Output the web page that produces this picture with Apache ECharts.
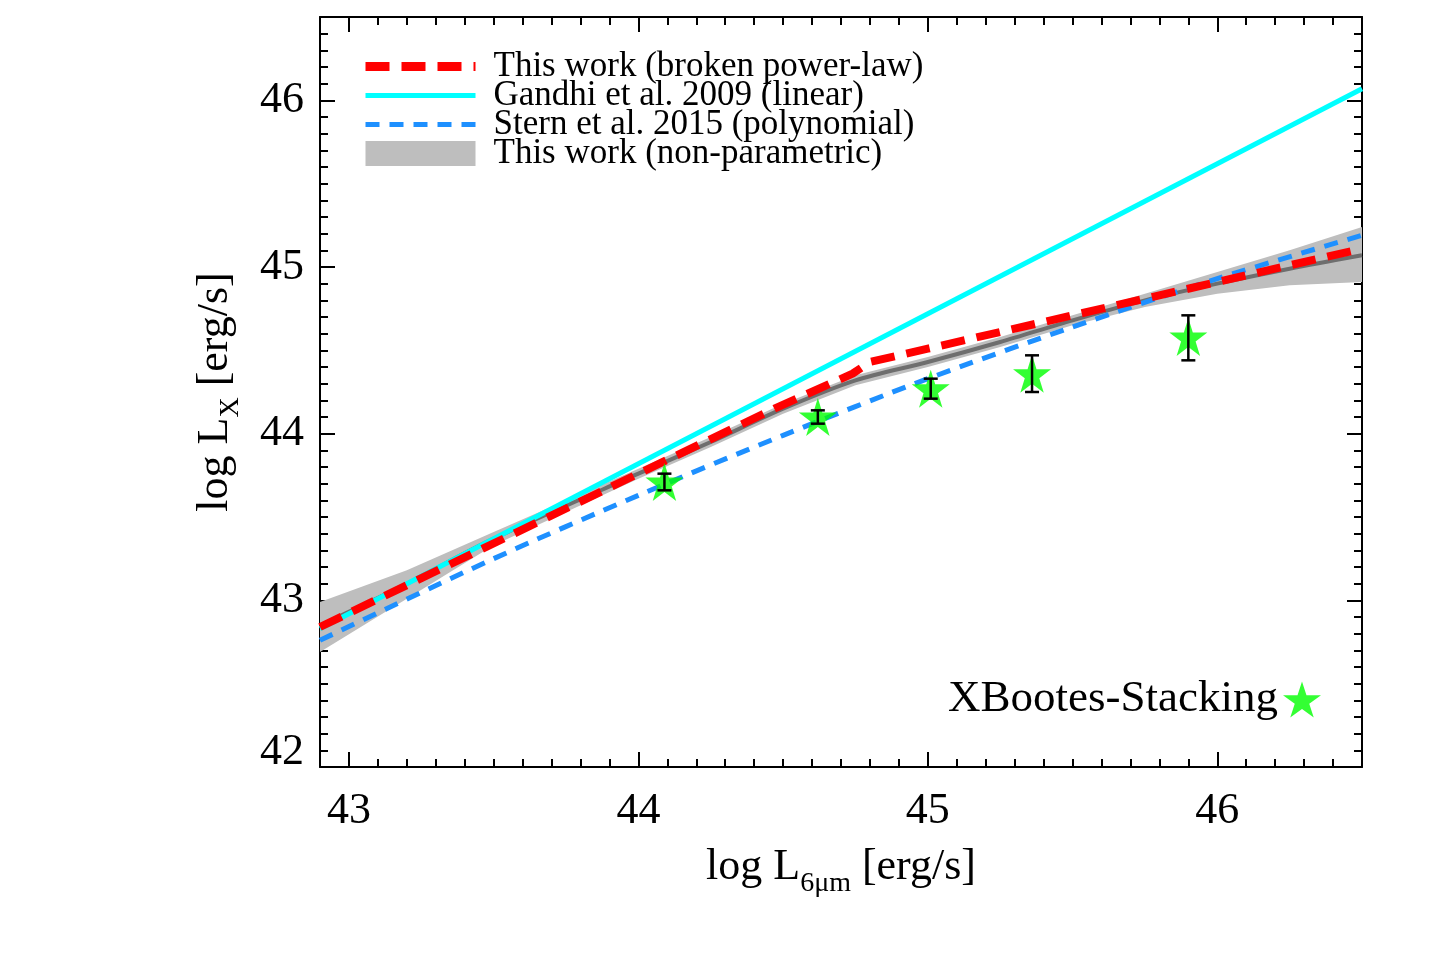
<!DOCTYPE html>
<html style="height: 100%">
<head>
  <meta charset="utf-8" />
  <title>log LX vs log L6um</title>
  <script src="https://cdn.jsdelivr.net/npm/echarts@6/dist/echarts.min.js"></script>
</head>
<body style="height: 100%; margin: 0; background: #fff">
  <div id="main" style="width: 1438px; height: 959px"></div>
  <script>
    // Gandhi et al. 2009 (linear)
    const gandhiX = [42.9, 46.5];
    const gandhiY = [42.83, 46.07];

    // This work, broken power-law
    const brokenX = [42.9, 44.0, 44.47, 44.74, 44.8, 45.0, 46.5];
    const brokenY = [42.84, 43.76, 44.15, 44.36, 44.43, 44.51, 45.11];

    // Stern et al. 2015 (polynomial)
    const sternX = [42.9, 43.5, 44.0, 44.5, 45.0, 45.5, 46.0, 46.5];
    const sternY = [42.76, 43.25, 43.63, 43.99, 44.33, 44.64, 44.93, 45.19];

    // This work, non-parametric: median and band
    const bandX  = [42.9, 43.2, 43.5, 44.0, 44.25, 44.5, 44.75, 45.0, 45.25, 45.5, 45.75, 46.0, 46.25, 46.5];
    const medY   = [42.85, 43.10, 43.37, 43.76, 43.95, 44.15, 44.32, 44.43, 44.55, 44.68, 44.80, 44.90, 44.99, 45.07];
    const bandLo = [42.69, 43.01, 43.33, 43.73, 43.92, 44.12, 44.29, 44.40, 44.52, 44.65, 44.76, 44.84, 44.89, 44.91];
    const bandHi = [42.99, 43.18, 43.41, 43.79, 43.98, 44.18, 44.35, 44.46, 44.58, 44.71, 44.84, 44.97, 45.10, 45.24];

    // XBootes stacking points
    const stackX  = [44.09, 44.62, 45.01, 45.36, 45.90];
    const stackY  = [43.71, 44.10, 44.27, 44.36, 44.58];
    const stackLo = [43.66, 44.06, 44.21, 44.25, 44.44];
    const stackHi = [43.76, 44.14, 44.33, 44.47, 44.71];

    const xMajor = [43, 44, 45, 46];
    const yMajor = [42, 43, 44, 45, 46];

    const xMinor = [];
    for (let i = 430; i <= 465; i++) xMinor.push(i / 10);
    const yMinor = [];
    for (let i = 420; i <= 465; i++) yMinor.push(i / 10);

    const FONT = 'Liberation Serif';
    const STAR = 'path://M50,0 L61.2,34.5 L97.6,34.5 L68.2,55.9 L79.4,90.5 L50,69.1 L20.6,90.5 L31.8,55.9 L2.4,34.5 L38.8,34.5 Z';

    const zip = (xs, ys) => xs.map((x, i) => [x, ys[i]]);

    function xAxis(pos, major, labels) {
      return {
        type: 'value', position: pos, min: 42.9, max: 46.5,
        axisLine: { show: major, lineStyle: { color: '#000', width: 2 } },
        axisTick: {
          show: true, inside: true, length: major ? 15 : 8,
          customValues: major ? xMajor : xMinor,
          lineStyle: { color: '#000', width: 2 }
        },
        axisLabel: labels ? {
          show: true, customValues: xMajor, margin: 22,
          fontFamily: FONT, fontSize: 44, color: '#000'
        } : { show: false },
        splitLine: { show: false }
      };
    }

    function yAxis(pos, major, labels) {
      return {
        type: 'value', position: pos, min: 42, max: 46.5,
        axisLine: { show: major, lineStyle: { color: '#000', width: 2 } },
        axisTick: {
          show: true, inside: true, length: major ? 15 : 8,
          customValues: major ? yMajor : yMinor,
          lineStyle: { color: '#000', width: 2 }
        },
        axisLabel: labels ? {
          show: true, customValues: yMajor, margin: 16,
          fontFamily: FONT, fontSize: 44, color: '#000',
          formatter: v => (v === 42 ? '{low|42}' : String(v)),
          rich: { low: { fontFamily: FONT, fontSize: 44, color: '#000', padding: [0, 0, 30, 0] } }
        } : { show: false },
        splitLine: { show: false }
      };
    }

    const nameStyle = {
      fontFamily: FONT, fontSize: 44, color: '#000', lineHeight: 60,
      rich: { sub: { fontFamily: FONT, fontSize: 28, color: '#000', verticalAlign: 'bottom' } }
    };

    const xs = [xAxis('bottom', true, true), xAxis('bottom', false, false),
                xAxis('top', true, false), xAxis('top', false, false)];
    Object.assign(xs[0], {
      name: 'log L{sub|6\u03bcm} [erg/s]', nameLocation: 'middle', nameGap: 57, nameTextStyle: nameStyle
    });

    const ys = [yAxis('left', true, true), yAxis('left', false, false),
                yAxis('right', true, false), yAxis('right', false, false)];
    Object.assign(ys[0], {
      name: 'log L{sub|X} [erg/s]', nameLocation: 'middle', nameGap: 75, nameTextStyle: nameStyle
    });

    const noSymbol = { color: 'rgba(0,0,0,0)', opacity: 0 };

    const chart = echarts.init(document.getElementById('main'));

    chart.setOption({
      animation: false,
      backgroundColor: '#fff',
      grid: { left: 320, right: 76, top: 17, bottom: 192, containLabel: false },
      xAxis: xs,
      yAxis: ys,
      legend: [
        {
          left: 361, top: 49, orient: 'vertical', padding: 0,
          itemWidth: 110, itemHeight: 25, itemGap: -6,
          selectedMode: false,
          textStyle: { fontFamily: FONT, fontSize: 35, color: '#000', padding: [0, 0, 0, 13] },
          data: [
            { name: 'This work (broken power-law)', lineStyle: { width: 9 }, itemStyle: noSymbol },
            { name: 'Gandhi et al. 2009 (linear)', lineStyle: { width: 5 }, itemStyle: noSymbol },
            { name: 'Stern et al. 2015 (polynomial)', lineStyle: { width: 5 }, itemStyle: noSymbol },
            { name: 'This work (non-parametric)', icon: 'rect', itemStyle: { color: '#bebebe' } }
          ]
        },
        {
          right: 117, top: 677, orient: 'vertical', align: 'right', padding: 0,
          itemWidth: 38, itemHeight: 38,
          selectedMode: false,
          textStyle: { fontFamily: FONT, fontSize: 45, color: '#000' },
          data: [{ name: 'XBootes-Stacking', icon: STAR }]
        }
      ],
      series: [
        {
          name: 'This work (non-parametric)', type: 'custom',
          itemStyle: { color: '#bebebe' },
          data: bandX.map((x, i) => [x, bandLo[i], bandHi[i]]),
          encode: { x: 0, y: [1, 2] },
          renderItem: function (params, api) {
            if (params.dataIndex !== 0) return null;
            const pts = [];
            for (let i = 0; i < bandX.length; i++) pts.push(api.coord([bandX[i], bandHi[i]]));
            for (let i = bandX.length - 1; i >= 0; i--) pts.push(api.coord([bandX[i], bandLo[i]]));
            return { type: 'polygon', shape: { points: pts }, style: { fill: '#bebebe' } };
          }
        },
        {
          name: 'median', type: 'line', symbol: 'none', smooth: 0.3,
          lineStyle: { color: '#6e6e6e', width: 4 }, data: zip(bandX, medY)
        },
        {
          name: 'Gandhi et al. 2009 (linear)', type: 'line', symbol: 'none',
          itemStyle: { color: '#00ffff' },
          lineStyle: { color: '#00ffff', width: 5 }, data: zip(gandhiX, gandhiY)
        },
        {
          name: 'Stern et al. 2015 (polynomial)', type: 'line', symbol: 'none', smooth: 0.3,
          itemStyle: { color: '#1e90ff' },
          lineStyle: { color: '#1e90ff', width: 5, type: [14, 10] }, data: zip(sternX, sternY)
        },
        {
          name: 'This work (broken power-law)', type: 'line', symbol: 'none',
          itemStyle: { color: '#ff0000' },
          lineStyle: { color: '#ff0000', width: 8, type: [24, 12] }, data: zip(brokenX, brokenY)
        },
        {
          name: 'XBootes-Stacking', type: 'scatter', symbol: STAR, symbolSize: 38, z: 5,
          itemStyle: { color: '#00ff00' }, data: zip(stackX, stackY)
        },
        {
          name: 'errors', type: 'custom', z: 6,
          data: stackX.map((x, i) => [x, stackLo[i], stackHi[i]]),
          encode: { x: 0, y: [1, 2] },
          renderItem: function (params, api) {
            const lo = api.coord([api.value(0), api.value(1)]);
            const hi = api.coord([api.value(0), api.value(2)]);
            const w = 7;
            const style = { stroke: '#000', lineWidth: 2.5 };
            return {
              type: 'group',
              children: [
                { type: 'line', shape: { x1: lo[0], y1: lo[1], x2: hi[0], y2: hi[1] }, style: style },
                { type: 'line', shape: { x1: lo[0] - w, y1: lo[1], x2: lo[0] + w, y2: lo[1] }, style: style },
                { type: 'line', shape: { x1: hi[0] - w, y1: hi[1], x2: hi[0] + w, y2: hi[1] }, style: style }
              ]
            };
          }
        }
      ]
    });
  </script>
</body>
</html>
